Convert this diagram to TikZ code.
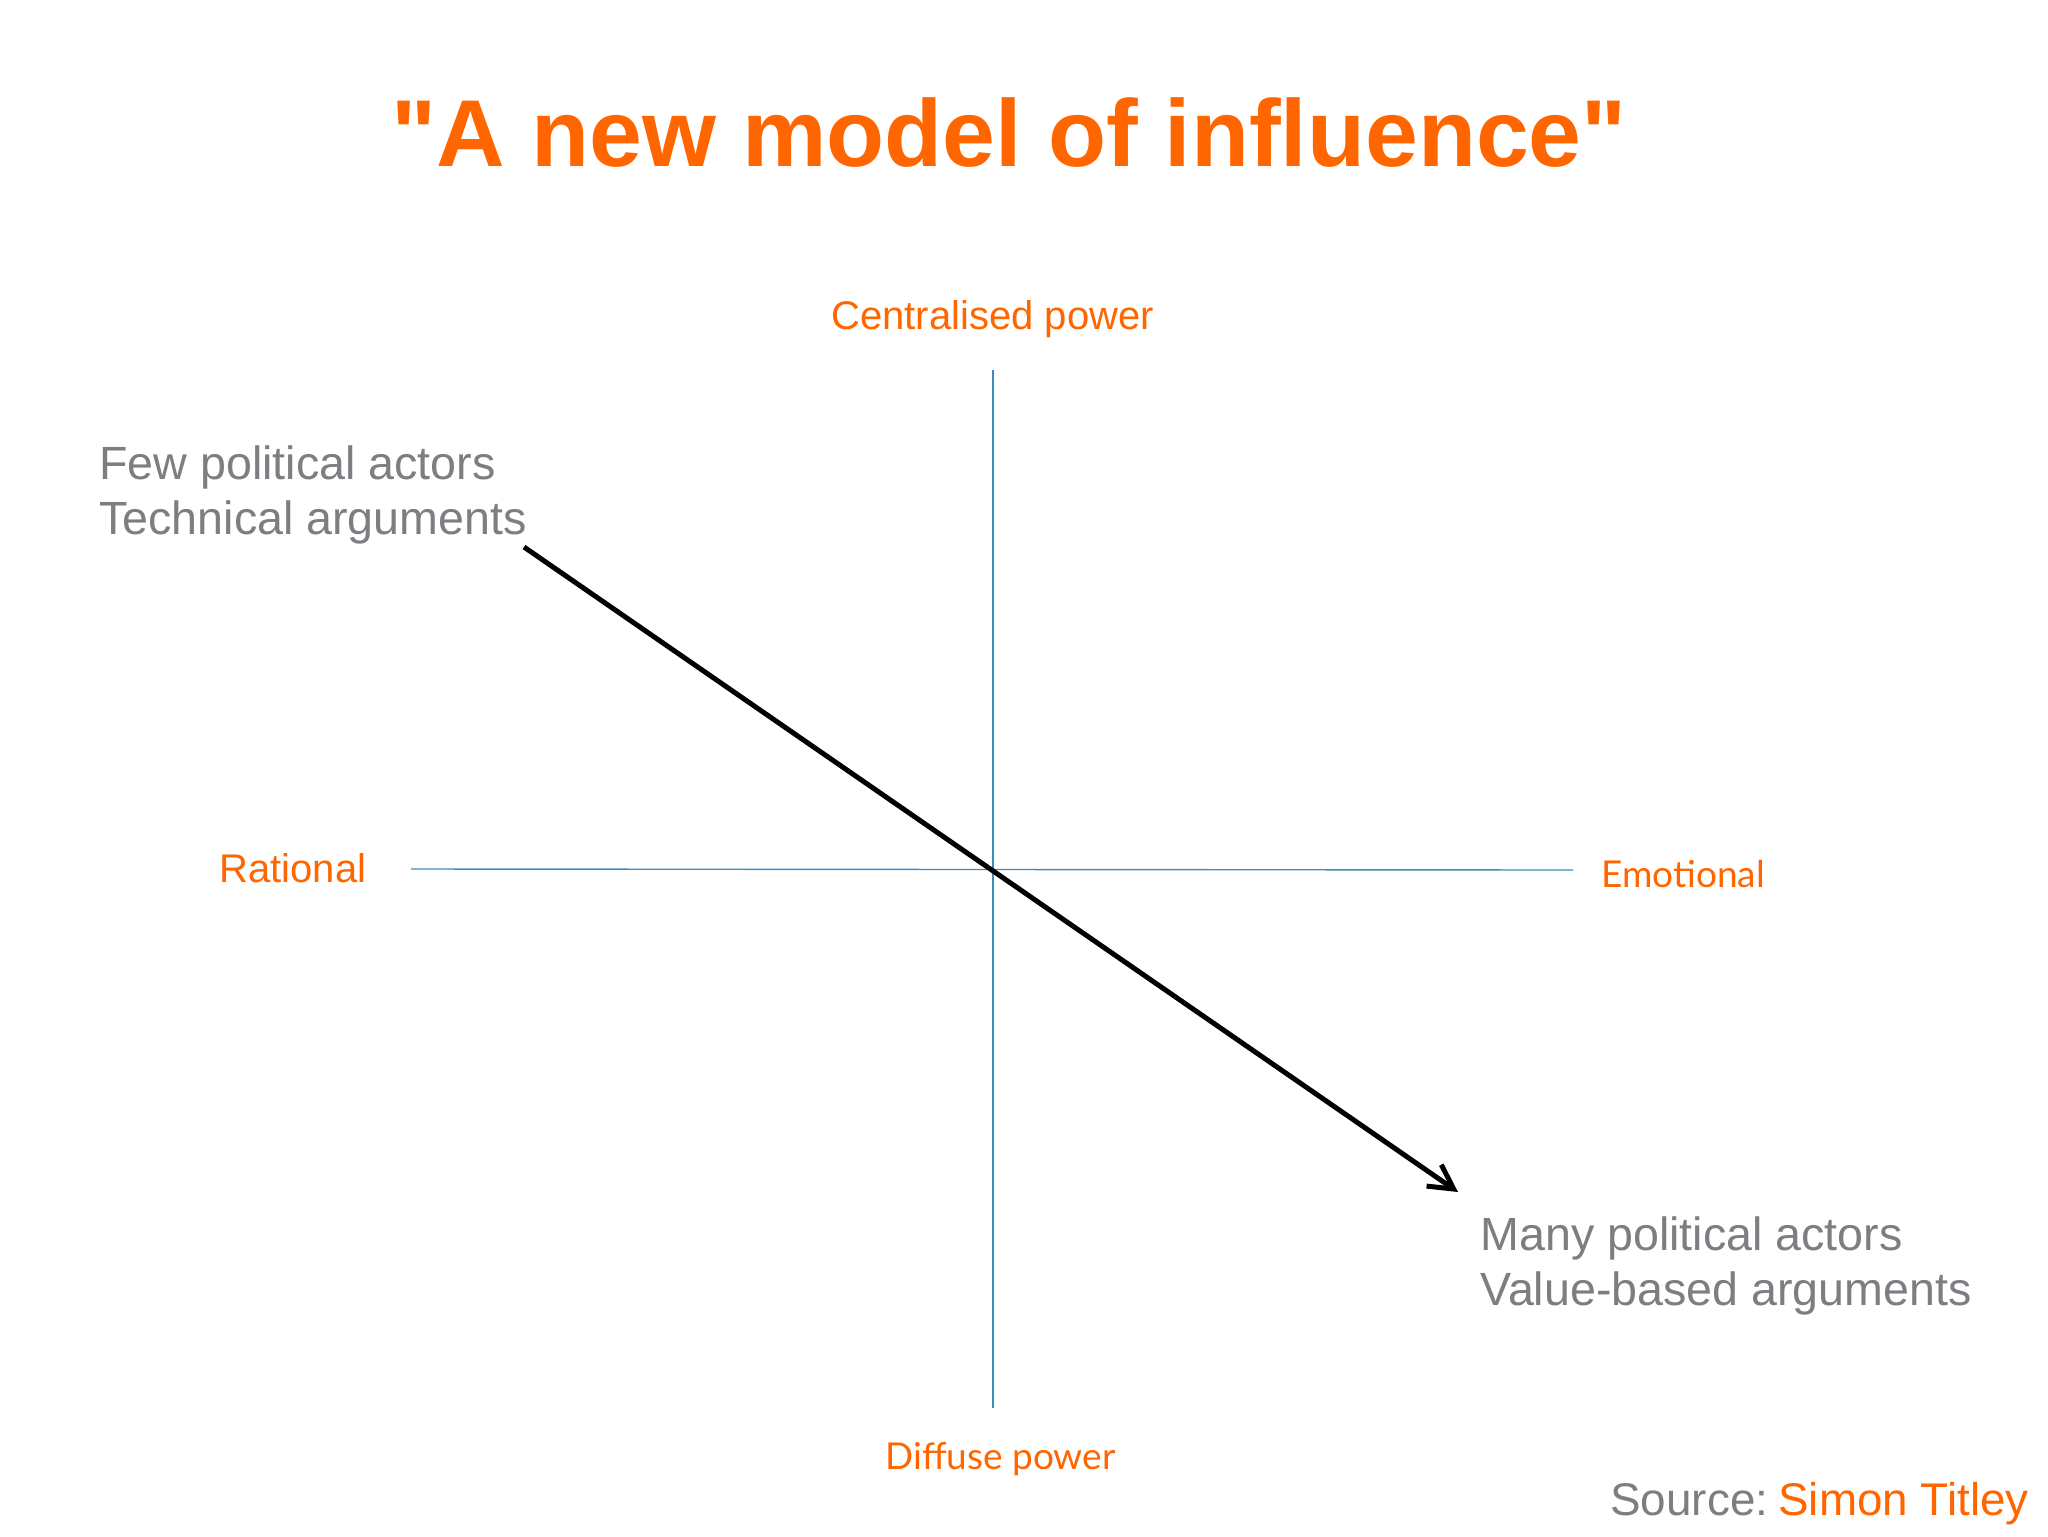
\documentclass[tikz,border=0pt]{standalone}
\usepackage{fontspec}
\setmainfont{Liberation Sans}
\newfontfamily\gillfont{Lato}
\newfontfamily\titlefont{Liberation Sans}[Ligatures=TeXOff]
\usetikzlibrary{arrows.meta}
\definecolor{inforange}{RGB}{255,102,0}
\definecolor{infgray}{RGB}{125,125,130}
\definecolor{axisblue}{RGB}{60,140,190}
\tikzset{
  axisline/.style={color=axisblue, line width=0.7pt},
  poleorange/.style={anchor=base west, inner sep=0pt, text=inforange, font=\fontsize{20}{24}\selectfont},
  polegill/.style={poleorange, font=\fontsize{18.5}{22}\selectfont\gillfont},
  graytext/.style={anchor=base west, inner sep=0pt, text=infgray, font=\fontsize{23.3}{27.5}\selectfont},
}
\begin{document}
\begin{tikzpicture}[x=0.5pt,y=0.5pt,yscale=-1,xscale=1]
	\useasboundingbox (0,0) rectangle (2048,1536);
	\fill[white] (0,0) rectangle (2048,1536);
	
	% Title
	\node (title) [anchor=base, inner sep=0pt, text=inforange, font=\fontsize{47.5}{55}\selectfont\titlefont\bfseries] at (1009,166) {"A new model of influence"};
	
	% Axes
	\coordinate (top) at (993,370);
	\coordinate (bottom) at (993,1408);
	\coordinate (left) at (411,869);
	\coordinate (right) at (1573,870);
	\draw [axisline] (top) -- (bottom);
	\draw [axisline] (left) -- (right);
	
	% Pole labels
	\node (central) [poleorange] at (831,329) {Centralised power};
	\node (rational) [poleorange] at (219,882) {Rational};
	\node (emotional) [polegill] at (1601,887) {Emotional};
	\node (diffuse) [polegill] at (885,1469) {Diffuse power};
	
	% Trend arrow
	\coordinate (start) at (524,547);
	\coordinate (finish) at (1458,1192);
	\draw [line width=2.5pt, -{Straight Barb[length=12pt,width=13pt,line width=2.5pt]}] (start) -- (finish);
	
	% Text Node
	\node (few) [graytext] at (99,479) {Few political actors};
	\node (technical) [graytext] at (99,534) {Technical arguments};
	% Text Node
	\node (many) [graytext] at (1480,1250) {Many political actors};
	\node (value) [graytext] at (1480,1305) {Value-based arguments};
	
	% Source
	\node (source) [graytext, font=\fontsize{22.9}{27}\selectfont] at (1610,1515) {Source:\hspace{0.22em}\textcolor{inforange}{Simon Titley}};
	
\end{tikzpicture}
\end{document}
